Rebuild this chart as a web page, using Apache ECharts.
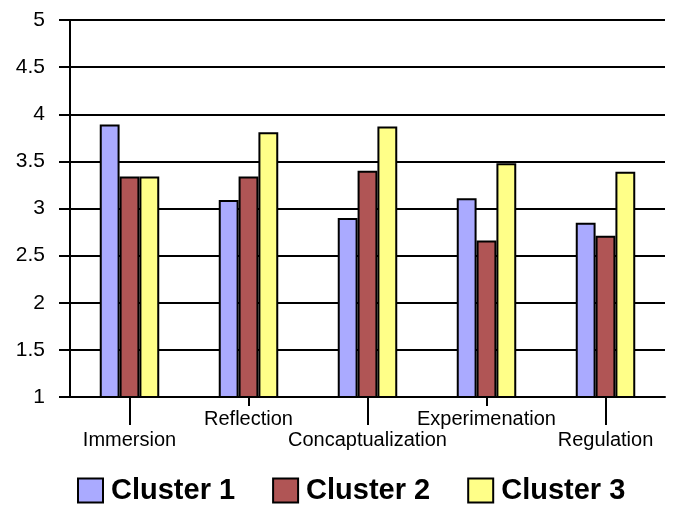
<!DOCTYPE html>
<html>
<head>
<meta charset="utf-8">
<script src="https://cdn.jsdelivr.net/npm/echarts@6/dist/echarts.min.js"></script>
<style>html,body{margin:0;padding:0;background:#fff}#c{width:680px;height:516px}</style>
</head>
<body>
<div id="c"></div>
<script>
const categories = ['Immersion', 'Reflection', 'Concaptualization', 'Experimenation', 'Regulation'];
const cluster1 = [3.89, 3.09, 2.90, 3.11, 2.85];
const cluster2 = [3.34, 3.34, 3.40, 2.66, 2.71];
const cluster3 = [3.34, 3.81, 3.87, 3.48, 3.39];
const seriesNames = ['Cluster 1', 'Cluster 2', 'Cluster 3'];
const colors = ['#aaaaff', '#b05555', '#ffff88'];

const FONT = "'Liberation Sans', Arial, Helvetica, sans-serif";
const chart = echarts.init(document.getElementById('c'));
const isEven = (i) => i % 2 === 0;
const isOdd = (i) => i % 2 === 1;

function bar(name, data, color) {
  return {
    name: name, type: 'bar', data: data, xAxisIndex: 0,
    barGap: '0%', barCategoryGap: '50%',
    itemStyle: { color: color, borderColor: '#000', borderWidth: 2 },
    emphasis: { disabled: true }
  };
}

chart.setOption({
  animation: false,
  textStyle: { fontFamily: FONT },
  grid: { left: 70, right: 15, top: 20, bottom: 119, containLabel: false },
  legend: {
    left: 77, top: 476, padding: 0,
    itemWidth: 25, itemHeight: 24, itemGap: 37,
    icon: 'rect',
    itemStyle: { borderColor: '#000', borderWidth: 2 },
    textStyle: { fontFamily: FONT, fontSize: 29, fontWeight: 'bold', color: '#000', padding: [0, 0, 0, 3] },
    data: seriesNames
  },
  xAxis: [
    {
      type: 'category', data: categories, position: 'bottom',
      axisLine: { show: true, lineStyle: { color: '#000', width: 2 } },
      axisTick: { show: true, alignWithLabel: true, interval: (i) => isOdd(i), length: 9, lineStyle: { color: '#000', width: 2 } },
      axisLabel: { interval: (i) => isOdd(i), margin: 12, fontSize: 20, color: '#000', fontFamily: FONT },
      splitLine: { show: false }
    },
    {
      type: 'category', data: categories, position: 'bottom', offset: 0,
      axisLine: { show: false },
      axisTick: { show: true, alignWithLabel: true, interval: (i) => isEven(i), length: 28, lineStyle: { color: '#000', width: 2 } },
      axisLabel: { interval: (i) => isEven(i), margin: 33, fontSize: 20, color: '#000', fontFamily: FONT },
      splitLine: { show: false }
    }
  ],
  yAxis: {
    type: 'value', min: 1, max: 5, interval: 0.5,
    axisLine: { show: true, lineStyle: { color: '#000', width: 2 } },
    axisTick: { show: true, length: 11, lineStyle: { color: '#000', width: 2 } },
    axisLabel: { margin: 25, fontSize: 21, color: '#000', fontFamily: FONT },
    splitLine: { show: true, lineStyle: { color: '#000', width: 2 } }
  },
  series: [
    bar(seriesNames[0], cluster1, colors[0]),
    bar(seriesNames[1], cluster2, colors[1]),
    bar(seriesNames[2], cluster3, colors[2])
  ]
});
</script>
</body>
</html>
